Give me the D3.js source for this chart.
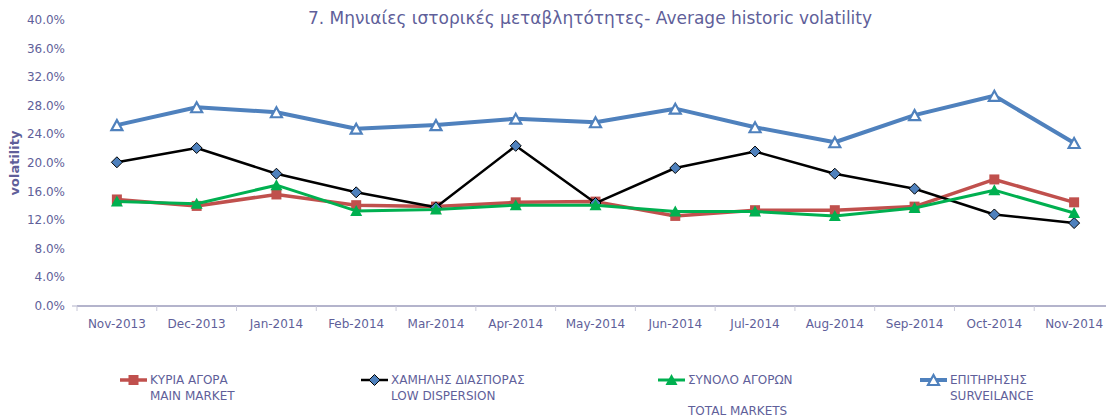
<!DOCTYPE html>
<html>
<head>
<meta charset="utf-8">
<script src="https://cdn.jsdelivr.net/npm/d3@7"></script>
<style>
  body { margin: 0; background: #fff; }
  text { font-family: "DejaVu Sans", sans-serif; fill: #5f5f9a; }
</style>
</head>
<body>
<svg width="1106" height="419"></svg>
<script>
// months on the x axis
var months = ["Nov-2013", "Dec-2013", "Jan-2014", "Feb-2014", "Mar-2014", "Apr-2014", "May-2014",
  "Jun-2014", "Jul-2014", "Aug-2014", "Sep-2014", "Oct-2014", "Nov-2014"];

// volatility in %
var mainMarket = [14.9, 14.0, 15.6, 14.1, 13.9, 14.5, 14.6, 12.6, 13.4, 13.4, 13.9, 17.7, 14.5];
var lowDispersion = [20.1, 22.1, 18.5, 15.9, 13.8, 22.4, 14.4, 19.3, 21.6, 18.5, 16.4, 12.8, 11.6];
var totalMarkets = [14.6, 14.3, 16.9, 13.3, 13.5, 14.1, 14.1, 13.2, 13.2, 12.6, 13.7, 16.2, 13.0];
var surveillance = [25.3, 27.8, 27.1, 24.8, 25.3, 26.2, 25.7, 27.6, 25.0, 22.9, 26.7, 29.4, 22.8];

var yTicks = [0, 4, 8, 12, 16, 20, 24, 28, 32, 36, 40];

var series = [
  { name: ["ΚΥΡΙΑ ΑΓΟΡΑ", "MAIN MARKET"], values: mainMarket, color: "#c0504d", width: 3.5, marker: "square", lx: 120 },
  { name: ["ΧΑΜΗΛΗΣ ΔΙΑΣΠΟΡΑΣ", "LOW DISPERSION"], values: lowDispersion, color: "#000000", width: 2.5, marker: "diamond", lx: 361 },
  { name: ["ΣΥΝΟΛΟ ΑΓΟΡΩΝ", "", "TOTAL MARKETS"], values: totalMarkets, color: "#00b050", width: 3, marker: "triangle", lx: 658 },
  { name: ["ΕΠΙΤΗΡΗΣΗΣ", "SURVEILANCE"], values: surveillance, color: "#4f81bd", width: 4, marker: "open", lx: 920 }
];

var svg = d3.select("svg");

var x = d3.scaleBand().domain(months).range([77, 1114]);
var y = d3.scaleLinear().domain([0, 40]).range([306, 20]);

// title
svg.append("text")
  .attr("x", 590).attr("y", 24)
  .attr("text-anchor", "middle")
  .style("font-size", "17px")
  .text("7. Μηνιαίες ιστορικές μεταβλητότητες- Average historic volatility");

// y axis labels
svg.append("g").selectAll("text").data(yTicks).enter()
  .append("text")
  .attr("x", 65)
  .attr("y", function(d) { return y(d) + 4; })
  .attr("text-anchor", "end")
  .style("font-size", "12px")
  .text(function(d) { return d.toFixed(1) + "%"; });

svg.append("line")
  .attr("x1", 72).attr("x2", 77)
  .attr("y1", y(0)).attr("y2", y(0))
  .style("stroke", "#b0b0c8");

svg.append("text")
  .attr("transform", "translate(19," + y(20) + ") rotate(-90)")
  .attr("text-anchor", "middle")
  .style("font-size", "13px")
  .style("font-weight", "bold")
  .text("volatility");

// x axis
var xAxis = svg.append("g")
  .attr("transform", "translate(0," + y(0) + ")");
xAxis.append("line")
  .attr("x1", 77).attr("x2", 1106)
  .style("stroke", "#6a6a9a").style("stroke-width", 1.2);
xAxis.selectAll("line.tick").data(months).enter()
  .append("line").classed("tick", true)
  .attr("x1", function(d) { return x(d); })
  .attr("x2", function(d) { return x(d); })
  .attr("y1", 0).attr("y2", 5)
  .style("stroke", "#c8c8d8");
xAxis.selectAll("text").data(months).enter()
  .append("text")
  .attr("x", function(d) { return x(d) + x.bandwidth() / 2; })
  .attr("y", 22)
  .attr("text-anchor", "middle")
  .style("font-size", "12px")
  .text(function(d) { return d; });

var line = d3.line()
  .x(function(d, i) { return x(months[i]) + x.bandwidth() / 2; })
  .y(function(d) { return y(d); });

function drawMarker(g, type, color) {
  if (type == "square") {
    g.append("rect").attr("x", -5).attr("y", -5).attr("width", 10).attr("height", 10)
      .style("fill", color);
  } else if (type == "diamond") {
    g.append("path").attr("d", "M0,-5.5L5.5,0L0,5.5L-5.5,0Z")
      .style("fill", "#4f81bd").style("stroke", "#000").style("stroke-width", 1);
  } else if (type == "triangle") {
    g.append("path").attr("d", "M0,-6L6,5L-6,5Z")
      .style("fill", color);
  } else {
    g.append("path").attr("d", "M0,-5L5.5,5L-5.5,5Z")
      .style("fill", "#fff").style("stroke", color).style("stroke-width", 2.2);
  }
}

var plots = svg.append("g");
series.forEach(function(s) {
  var g = plots.append("g");
  g.append("path")
    .datum(s.values)
    .attr("d", line)
    .style("fill", "none")
    .style("stroke", s.color)
    .style("stroke-width", s.width)
    .style("stroke-linejoin", "round");
  g.selectAll("g").data(s.values).enter()
    .append("g")
    .attr("transform", function(d, i) { return "translate(" + [x(months[i]) + x.bandwidth() / 2, y(d)] + ")"; })
    .each(function() { drawMarker(d3.select(this), s.marker, s.color); });
});

// legend
var legend = svg.append("g");
series.forEach(function(s) {
  var g = legend.append("g").attr("transform", "translate(" + s.lx + ",380)");
  g.append("line").attr("x1", 0).attr("x2", 27).attr("y1", 0).attr("y2", 0)
    .style("stroke", s.color).style("stroke-width", s.width);
  var m = g.append("g").attr("transform", "translate(13.5,0)");
  drawMarker(m, s.marker, s.color);
  g.selectAll("text").data(s.name).enter()
    .append("text")
    .attr("x", 30)
    .attr("y", function(d, i) { return 4 + i * 15.5; })
    .style("font-size", "12px")
    .text(function(d) { return d; });
});
</script>
</body>
</html>
